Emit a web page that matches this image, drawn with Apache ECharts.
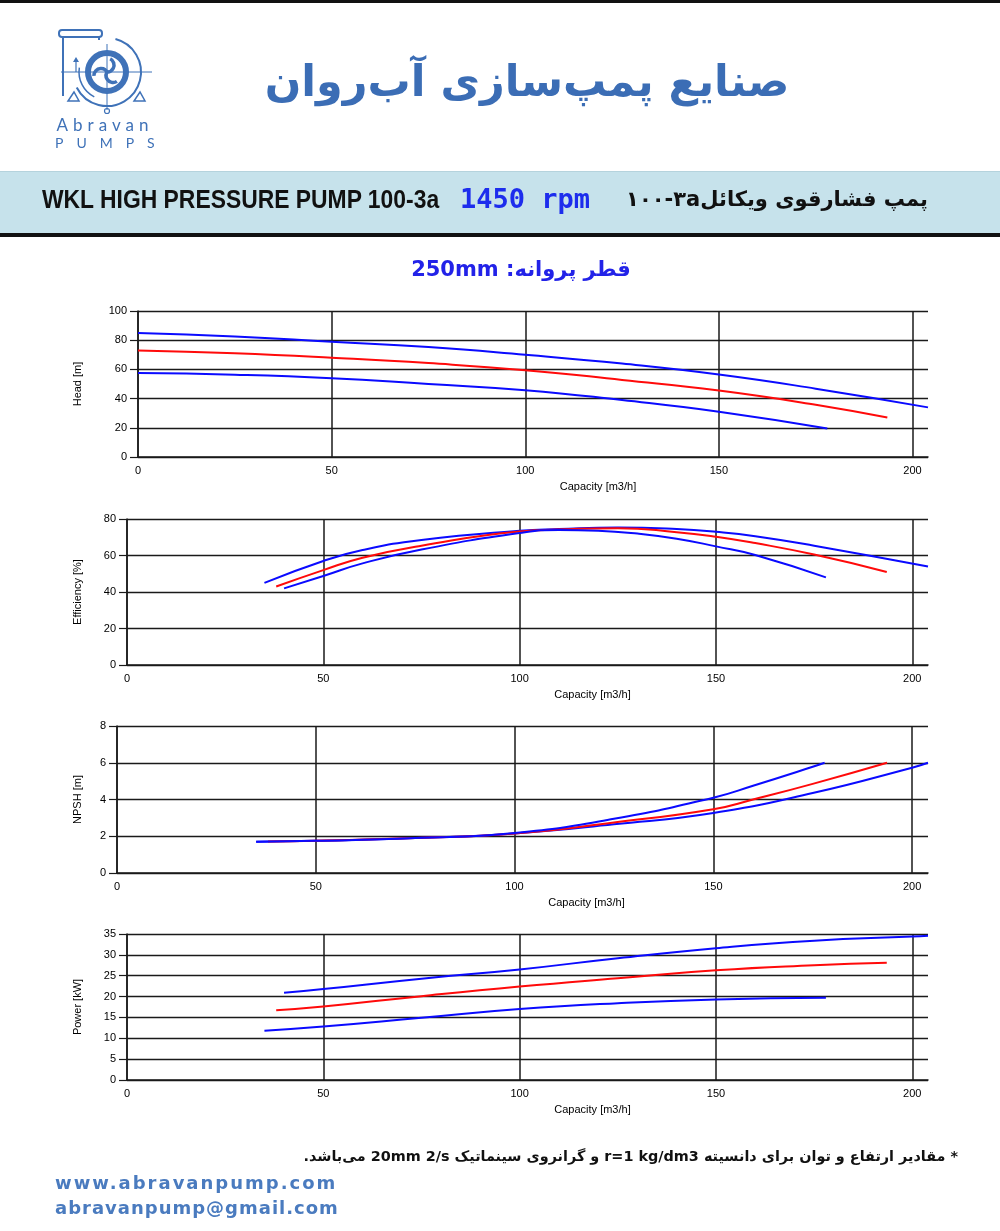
<!DOCTYPE html>
<html lang="fa">
<head>
<meta charset="utf-8">
<title>WKL 100-3a</title>
<script src="https://cdn.jsdelivr.net/npm/echarts@6/dist/echarts.min.js"></script>
<style>
  html, body { margin: 0; padding: 0; background: #fff; }
  #page { position: relative; width: 1000px; height: 1231px; overflow: hidden; }
  #chart { position: absolute; left: 0; top: 0; width: 1000px; height: 1231px; z-index: 1; }
  .t { position: absolute; z-index: 2; white-space: nowrap; }
  #topbar { position: absolute; left: 0; top: 0; width: 1000px; height: 3px; background: #111; }
  #band { position: absolute; left: 0; top: 171px; width: 1000px; height: 61px; background: #c6e2eb; border-top: 1px solid #b5d3dd; border-bottom: 4px solid #111; }
</style>
</head>
<body>
<div id="page">
  <div id="topbar"></div>
  <div id="band"></div>
  <div id="chart"></div>

  <div class="t" style="left:54px;top:114px;width:102px;text-align:center;font:400 17px 'Lato';letter-spacing:5px;color:#3f72b8;">Abravan</div>
  <div class="t" style="left:55px;top:134px;width:104px;text-align:center;font:400 14px 'Lato';letter-spacing:13px;color:#3f72b8;">PUMPS</div>

  <div class="t" dir="rtl" style="left:262px;top:56px;width:530px;text-align:center;font:bold 43px 'DejaVu Sans';color:#3b6db5;">صنایع پمپ‌سازی آب‌روان</div>

  <div class="t" style="left:42px;top:184px;font:bold 26px 'Liberation Sans';color:#111;transform:scaleX(0.88);transform-origin:0 50%;">WKL HIGH PRESSURE PUMP 100-3a</div>
  <div class="t" style="left:460px;top:183px;font:bold 27px 'DejaVu Sans Mono';color:#1d2ded;">1450 rpm</div>
  <div class="t" dir="rtl" style="right:72px;top:187px;font:bold 21px 'DejaVu Sans';color:#111;">پمپ فشارقوی ویکائل<bdi>a</bdi><bdi>۳</bdi>-<bdi>۱۰۰</bdi></div>

  <div class="t" dir="rtl" style="left:321px;top:257px;width:400px;text-align:center;font:bold 21px 'DejaVu Sans';color:#2222e8;">قطر پروانه: 250mm</div>

  <div class="t" dir="rtl" style="right:42px;top:1148px;font:bold 14.4px 'DejaVu Sans';color:#111;">* مقادیر ارتفاع و توان برای دانسیته r=1 kg/dm3 و گرانروی سینماتیک 20mm 2/s می‌باشد.</div>

  <div class="t" style="left:55px;top:1172px;font:bold 18px 'DejaVu Sans';letter-spacing:2px;color:#4a7bbf;">www.abravanpump.com</div>
  <div class="t" style="left:55px;top:1197px;font:bold 18px 'DejaVu Sans';letter-spacing:1px;color:#4a7bbf;">abravanpump@gmail.com</div>
</div>

<script>
// ---- data (capacity m3/h) ----
// Head [m]
var headHiQ = [0, 25, 50, 75, 100, 125, 150, 175, 204];
var headHi  = [85, 82.6, 79, 75.3, 70, 64, 56.5, 46.8, 34];
var headMidQ = [0, 25, 50, 75, 100, 125, 150, 175, 193.5];
var headMid  = [73, 71, 68, 64.3, 59.5, 52.8, 45.5, 35.8, 27];
var headLoQ = [0, 25, 50, 75, 100, 125, 150, 178];
var headLo  = [57.5, 56.4, 54, 50, 45.8, 39, 31, 19.5];

// Efficiency [%]
var effHiQ = [35, 50, 60, 75, 100, 110, 125, 140, 150, 160, 175, 204];
var effHi  = [45, 57, 63, 68.5, 73.6, 74.5, 75.3, 74.5, 73, 70.6, 65.4, 54];
var effMidQ = [38, 50, 60, 75, 100, 110, 125, 140, 150, 160, 175, 193.5];
var effMid  = [43, 52, 58.8, 65.4, 73.2, 74.2, 75, 72.8, 70.3, 66.8, 60.5, 51];
var effLoQ = [40, 50, 60, 75, 100, 110, 120, 130, 140, 150, 160, 178];
var effLo  = [42, 48.8, 55.7, 63.3, 72.3, 74, 73.6, 72, 69.2, 65, 60.3, 48];

// NPSH [m]
var npshHiQ = [35, 50, 75, 100, 125, 150, 160, 175, 178];
var npshHi  = [1.7, 1.75, 1.9, 2.18, 2.95, 4.1, 4.75, 5.78, 6.0];
var npshMidQ = [38, 50, 75, 100, 125, 150, 160, 175, 193.7];
var npshMid  = [1.72, 1.76, 1.9, 2.15, 2.75, 3.47, 4.0, 4.85, 6.0];
var npshLoQ = [35, 50, 75, 100, 125, 150, 175, 200, 204];
var npshLo  = [1.7, 1.75, 1.9, 2.15, 2.65, 3.27, 4.35, 5.73, 6.0];

// Power [kW]
var powHiQ = [40, 50, 75, 100, 125, 150, 175, 200, 204];
var powHi  = [20.9, 21.8, 24.3, 26.5, 29.2, 31.6, 33.4, 34.4, 34.6];
var powMidQ = [38, 50, 75, 100, 125, 150, 175, 193.5];
var powMid  = [16.7, 17.6, 20.1, 22.4, 24.4, 26.3, 27.5, 28.1];
var powLoQ = [35, 50, 75, 100, 125, 150, 178];
var powLo  = [11.8, 12.8, 14.9, 17, 18.4, 19.3, 19.7];

var yNames = ['Head [m]', 'Efficiency [%]', 'NPSH [m]', 'Power [kW]'];
var yMax = [100, 80, 8, 35];
var yStep = [20, 20, 2, 5];

var chart = echarts.init(document.getElementById('chart'));

function pairs(q, v) {
  return q.map(function (x, i) { return [x, v[i]]; });
}

var BLUE = '#0a0aff', RED = '#ff0a0a', LINE = '#1a1a1a', LOGO = '#3f72b8';
var FONT = 'Liberation Sans';

// grid boxes for the four panels
var boxes = [
  { top: 311, bottom: 774, left: 138, nameGap: 55, xNameShift: 130 },
  { top: 519, bottom: 566, left: 127, nameGap: 44, xNameShift: 130 },
  { top: 726, bottom: 358, left: 117, nameGap: 34, xNameShift: 128 },
  { top: 934, bottom: 151, left: 127, nameGap: 44, xNameShift: 130 }
];

var grids = [], xAxes = [], yAxes = [], series = [];
boxes.forEach(function (b, i) {
  grids.push({ left: b.left, right: 72, top: b.top, bottom: b.bottom });
  xAxes.push({
    type: 'value', gridIndex: i, min: 0, max: 204, interval: 50,
    name: 'Capacity [m3/h]', nameLocation: 'middle', nameGap: 24,
    nameTextStyle: { fontFamily: FONT, fontSize: 11, color: '#000', padding: [0, 0, 0, b.xNameShift] },
    axisLine: { lineStyle: { color: LINE, width: 1.5 } },
    axisTick: { show: false },
    axisLabel: { margin: 8, fontFamily: FONT, fontSize: 11, color: '#000',
      formatter: function (v) { return v % 50 === 0 ? v : ''; } },
    // last tick is the 204 edge: keep it invisible
    splitLine: { lineStyle: { color: [LINE, LINE, LINE, LINE, LINE, 'rgba(0,0,0,0)'], width: 1.5 } }
  });
  yAxes.push({
    type: 'value', gridIndex: i, min: 0, max: yMax[i], interval: yStep[i],
    name: yNames[i], nameLocation: 'middle', nameGap: b.nameGap,
    nameTextStyle: { fontFamily: FONT, fontSize: 11, color: '#000' },
    axisLine: { show: true, lineStyle: { color: LINE, width: 1.5 } },
    axisTick: { show: true, length: 8, lineStyle: { color: LINE, width: 1.2 } },
    axisLabel: { margin: 11, fontFamily: FONT, fontSize: 11, color: '#000' },
    splitLine: { lineStyle: { color: LINE, width: 1.4 } }
  });
});

function curve(idx, q, v, color) {
  series.push({
    type: 'line', xAxisIndex: idx, yAxisIndex: idx, data: pairs(q, v),
    smooth: 0.5, showSymbol: false,
    lineStyle: { color: color, width: 2 }, z: 3
  });
}
curve(0, headHiQ, headHi, BLUE);  curve(0, headMidQ, headMid, RED);  curve(0, headLoQ, headLo, BLUE);
curve(1, effHiQ, effHi, BLUE);    curve(1, effMidQ, effMid, RED);    curve(1, effLoQ, effLo, BLUE);
curve(2, npshLoQ, npshLo, BLUE);  curve(2, npshMidQ, npshMid, RED);  curve(2, npshHiQ, npshHi, BLUE);
curve(3, powHiQ, powHi, BLUE);    curve(3, powMidQ, powMid, RED);    curve(3, powLoQ, powLo, BLUE);

// logo drawing
var logo = [
  { type: 'rect', shape: { x: 59, y: 30, width: 43, height: 7, r: 3 }, style: { fill: 'none', stroke: LOGO, lineWidth: 2 } },
  { type: 'arc', shape: { cx: 107, cy: 72, r: 34, startAngle: -Math.PI * 0.42, endAngle: Math.PI * 0.85 }, style: { fill: 'none', stroke: LOGO, lineWidth: 2 } },
  { type: 'arc', shape: { cx: 107, cy: 72, r: 28, startAngle: Math.PI * 0.65, endAngle: Math.PI * 1.05 }, style: { fill: 'none', stroke: LOGO, lineWidth: 1.5 } },
  { type: 'line', shape: { x1: 63, y1: 37, x2: 63, y2: 96 }, style: { stroke: LOGO, lineWidth: 2 } },
  { type: 'line', shape: { x1: 99, y1: 37, x2: 99, y2: 40 }, style: { stroke: LOGO, lineWidth: 2 } },
  { type: 'line', shape: { x1: 61, y1: 72, x2: 152, y2: 72 }, style: { stroke: LOGO, lineWidth: 1 } },
  { type: 'line', shape: { x1: 107, y1: 44, x2: 107, y2: 110 }, style: { stroke: LOGO, lineWidth: 1 } },
  { type: 'circle', shape: { cx: 107, cy: 111, r: 2.5 }, style: { fill: 'none', stroke: LOGO, lineWidth: 1.2 } },
  { type: 'polyline', shape: { points: [[76, 72], [76, 60]] }, style: { stroke: LOGO, lineWidth: 1.2 } },
  { type: 'polygon', shape: { points: [[73, 62], [79, 62], [76, 57]] }, style: { fill: LOGO } },
  { type: 'polygon', shape: { points: [[68, 101], [79, 101], [74, 92]] }, style: { fill: 'none', stroke: LOGO, lineWidth: 1.5 } },
  { type: 'polygon', shape: { points: [[134, 101], [145, 101], [140, 92]] }, style: { fill: 'none', stroke: LOGO, lineWidth: 1.5 } },
  { type: 'circle', shape: { cx: 107, cy: 72, r: 19 }, style: { fill: 'none', stroke: LOGO, lineWidth: 6 } }
];
[0, 1, 2].forEach(function (k) {
  var th = -Math.PI / 2 + k * 2 * Math.PI / 3;
  logo.push({
    type: 'arc',
    shape: { cx: 107 + 7 * Math.cos(th), cy: 72 + 7 * Math.sin(th), r: 7,
      startAngle: th + Math.PI * 0.15, endAngle: th + Math.PI * 1.05 },
    style: { fill: 'none', stroke: LOGO, lineWidth: 3.5 }
  });
});

chart.setOption({
  animation: false,
  grid: grids,
  xAxis: xAxes,
  yAxis: yAxes,
  series: series,
  graphic: logo
});
</script>
</body>
</html>
